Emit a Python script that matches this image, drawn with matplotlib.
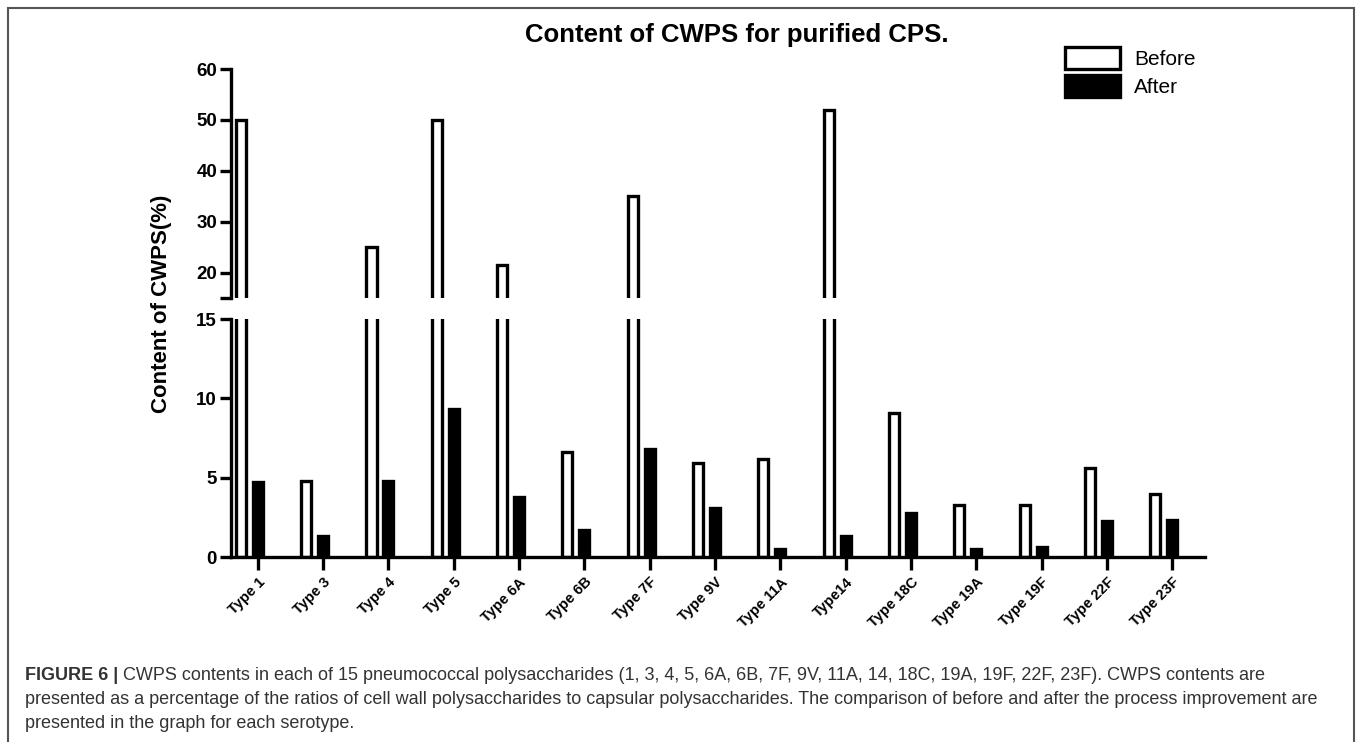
import numpy as np
import matplotlib
matplotlib.use('Agg')
import matplotlib.pyplot as plt
from matplotlib.patches import Patch, Rectangle

plt.rcParams['font.family'] = ['Liberation Sans', 'DejaVu Sans']

# dados
tipos = ['Type 1', 'Type 3', 'Type 4', 'Type 5', 'Type 6A', 'Type 6B', 'Type 7F',
         'Type 9V', 'Type 11A', 'Type14', 'Type 18C', 'Type 19A', 'Type 19F',
         'Type 22F', 'Type 23F']
antes = [50, 4.8, 25, 50, 21.5, 6.6, 35, 5.9, 6.2, 52, 9.1, 3.3, 3.3, 5.6, 4.0]
depois = [4.7, 1.3, 4.8, 9.3, 3.8, 1.7, 6.8, 3.1, 0.5, 1.35, 2.75, 0.5, 0.65, 2.25, 2.35]

W, H = 1357, 742
fig = plt.figure(figsize=(W / 100, H / 100), dpi=100)

# moldura da figura
fig.patches.append(Rectangle((8 / W, -0.01), (1354 - 8) / W, 1.01 - 8 / H,
                             transform=fig.transFigure, fill=False,
                             edgecolor='#555555', linewidth=1.5))

left = 231 / W
width = (1205 - 231) / W
ax_baixo = fig.add_axes([left, (H - 557) / H, width, 238 / H])
ax_cima = fig.add_axes([left, (H - 298) / H, width, 229 / H])

x = np.arange(len(tipos))
lw = 2.4
larg = 0.155
for ax in (ax_baixo, ax_cima):
    ax.bar(x - 0.26, antes, larg, color='white', edgecolor='black', linewidth=lw)
    ax.bar(x, depois, larg, color='black', edgecolor='black', linewidth=lw)
    ax.set_xlim(-0.41, 14.5)
    for s in ('top', 'right'):
        ax.spines[s].set_visible(False)
    ax.spines['left'].set_linewidth(lw)
    ax.tick_params(axis='y', width=lw, length=8, pad=2)

ax_baixo.set_ylim(0, 15)
ax_baixo.set_yticks([0, 5, 10, 15])
ax_baixo.set_yticklabels(['0', '5', '10', '15'], fontweight='bold', fontsize=13.5)
ax_baixo.spines['bottom'].set_linewidth(lw)
ax_baixo.set_xticks(x)
ax_baixo.set_xticklabels(tipos, rotation=45, ha='right', rotation_mode='anchor',
                         fontweight='bold', fontsize=10.5)
ax_baixo.tick_params(axis='x', width=lw, length=9, pad=4)

ax_cima.set_ylim(15, 60)
ax_cima.set_yticks([15, 20, 30, 40, 50, 60])
ax_cima.set_yticklabels(['', '20', '30', '40', '50', '60'], fontweight='bold', fontsize=13.5)
ax_cima.spines['bottom'].set_visible(False)
ax_cima.set_xticks([])

fig.text(162 / W, 1 - 304 / H, 'Content of CWPS(%)', rotation=90, ha='center',
         va='center', fontsize=16, fontweight='bold')
fig.text(737 / W, 1 - 35 / H, 'Content of CWPS for purified CPS.', ha='center',
         va='center', fontsize=18.5, fontweight='bold')

handles = [Patch(facecolor='white', edgecolor='black', linewidth=lw),
           Patch(facecolor='black', edgecolor='black', linewidth=lw)]
fig.legend(handles, ['Before', 'After'], loc='upper left',
           bbox_to_anchor=(1065 / W, 1 - 47 / H), frameon=False, fontsize=15,
           handlelength=2.65, handleheight=1.25, labelspacing=0.3,
           handletextpad=0.65, borderpad=0, borderaxespad=0)

# legenda da figura
cor = '#333333'
t1 = fig.text(25 / W, 1 - 675 / H, 'FIGURE 6 |', fontsize=13, fontweight='bold',
              color=cor, va='center')
fig.add_artist(plt.Annotation(' CWPS contents in each of 15 pneumococcal polysaccharides (1, 3, 4, 5, '
                              '6A, 6B, 7F, 9V, 11A, 14, 18C, 19A, 19F, 22F, 23F). CWPS contents are',
                              xy=(1, 0.5), xycoords=t1, va='center', ha='left',
                              fontsize=13, color=cor))
fig.text(25 / W, 1 - 700 / H, 'presented as a percentage of the ratios of cell wall polysaccharides '
         'to capsular polysaccharides. The comparison of before and after the process improvement are',
         fontsize=13, color=cor, va='center')
fig.text(25 / W, 1 - 724 / H, 'presented in the graph for each serotype.',
         fontsize=13, color=cor, va='center')

plt.savefig('out.png', dpi=100)
